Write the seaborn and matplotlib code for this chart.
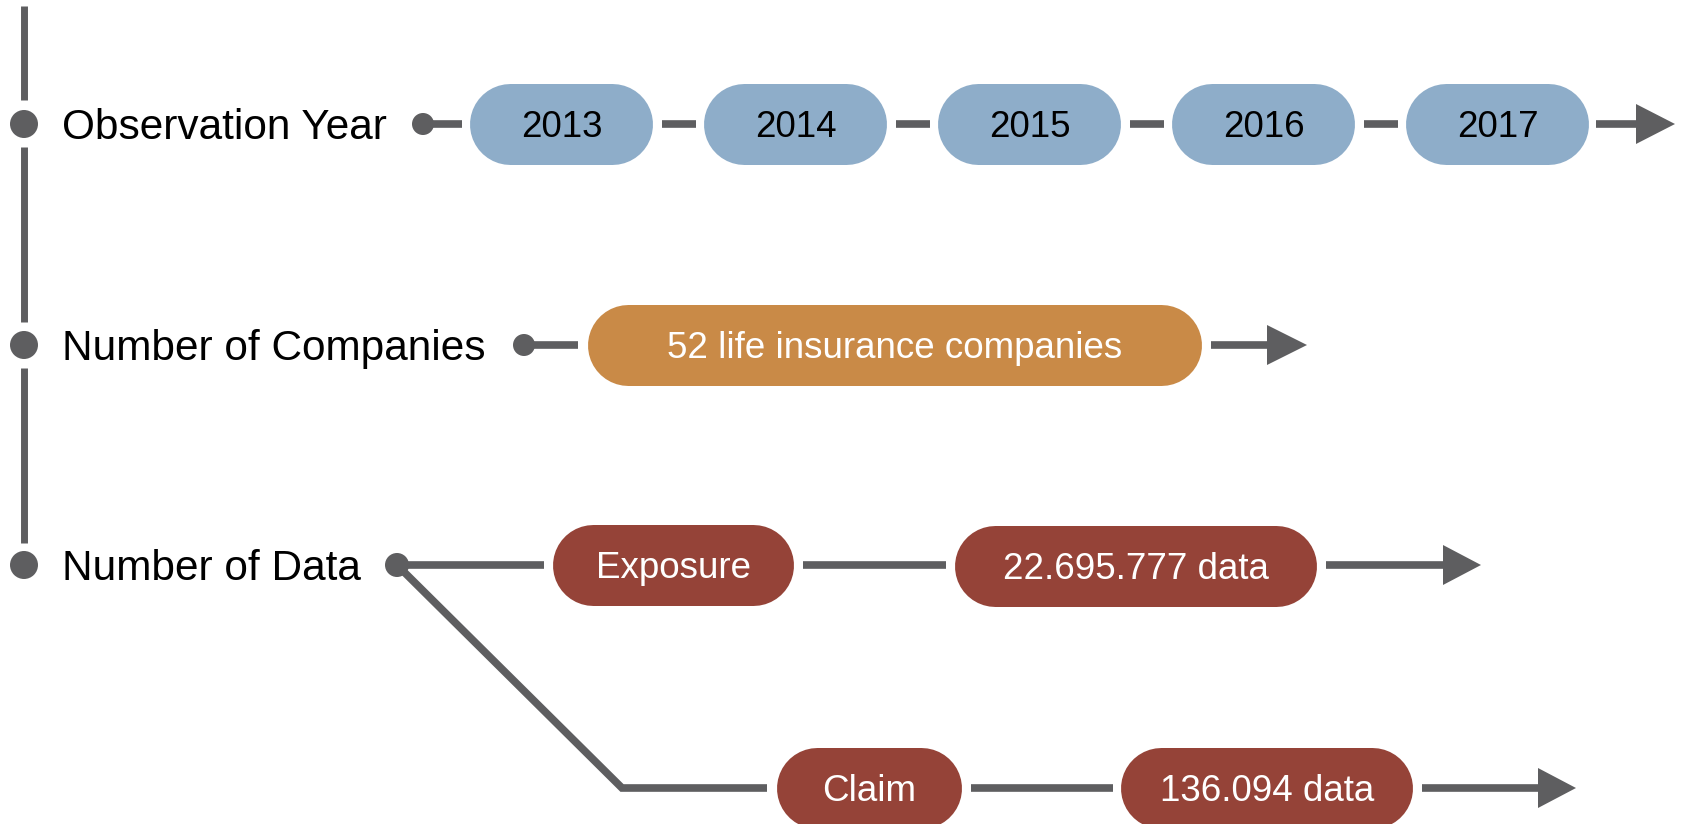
import matplotlib.pyplot as plt
import seaborn as sns
from matplotlib.patches import Polygon

# content
row_labels = ["Observation Year", "Number of Companies", "Number of Data"]
years = ["2013", "2014", "2015", "2016", "2017"]
companies = ["52 life insurance companies"]
data_kinds = ["Exposure", "Claim"]
data_counts = ["22.695.777 data", "136.094 data"]

# colours
GRAY = "#5e5e60"
BLUE = "#8eadc9"
ORANGE = "#c98a47"
RED = "#954338"

# layout in pixels (figure is 1682 x 824, y runs downward)
row_y = [124, 345, 565]
year_x0 = [470, 704, 938, 1172, 1406]
year_w = 183
pill_h = 81
PX = 72 / 100  # points per pixel at dpi 100


def pill(ax, x0, x1, yc, text, fc, tc):
    """stadium shaped box with centred text (thick line with round caps)"""
    r = pill_h / 2
    ax.plot([x0 + r, x1 - r], [yc, yc], color=fc, lw=pill_h * PX,
            solid_capstyle="round", zorder=3)
    ax.text((x0 + x1) / 2, yc + 13, text, color=tc, fontsize=26.5,
            ha="center", va="baseline", zorder=4)


def line(ax, xs, ys):
    ax.plot(xs, ys, color=GRAY, lw=5.5, solid_capstyle="butt", zorder=2)


def arrow(ax, x0, base, tip, y):
    line(ax, [x0, base + 2], [y, y])
    ax.add_patch(Polygon([[base, y - 20], [tip, y], [base, y + 20]],
                         closed=True, fc=GRAY, ec="none", zorder=2))


def dot(ax, x, y, r):
    ax.add_patch(plt.Circle((x, y), r, fc=GRAY, ec="none", zorder=3))


sns.set_style("white")
plt.rcParams["font.family"] = ["Liberation Sans", "DejaVu Sans"]

fig = plt.figure(figsize=(16.82, 8.24), dpi=100)
ax = fig.add_axes([0, 0, 1, 1])
ax.set_xlim(0, 1682)
ax.set_ylim(824, 0)
ax.axis("off")

# left timeline spine
for y0, y1 in [(6, 100), (147, 322), (368, 543)]:
    ax.plot([24, 24], [y0, y1], color=GRAY, lw=5, solid_capstyle="butt")
for label, y in zip(row_labels, row_y):
    dot(ax, 24, y, 14)
    ax.text(62, y + 15, label, fontsize=30.5, color="black",
            ha="left", va="baseline")

# row 1: observation years
y = row_y[0]
dot(ax, 423, y, 11)
line(ax, [423, 462], [y, y])
for i, yr in enumerate(years):
    x0 = year_x0[i]
    pill(ax, x0, x0 + year_w, y, yr, BLUE, "black")
    if i > 0:
        line(ax, [year_x0[i - 1] + year_w + 9, x0 - 8], [y, y])
arrow(ax, year_x0[-1] + year_w + 7, 1636, 1675, y)

# row 2: companies
y = row_y[1]
dot(ax, 524, y, 11)
line(ax, [524, 578], [y, y])
pill(ax, 588, 1202, y, companies[0], ORANGE, "white")
arrow(ax, 1211, 1267, 1307, y)

# row 3: data, exposure branch
y = row_y[2]
dot(ax, 397, y, 12)
line(ax, [397, 544], [y, y])
pill(ax, 553, 794, y, data_kinds[0], RED, "white")
line(ax, [803, 946], [y, y])
pill(ax, 955, 1317, y + 1, data_counts[0], RED, "white")
arrow(ax, 1326, 1443, 1481, y)

# row 3: claim branch
yc = 788
ax.plot([397, 622, 767], [y, yc, yc], color=GRAY, lw=5.5,
        solid_joinstyle="miter", solid_capstyle="butt", zorder=2)
pill(ax, 777, 962, yc, data_kinds[1], RED, "white")
line(ax, [971, 1113], [yc, yc])
pill(ax, 1121, 1413, yc, data_counts[1], RED, "white")
arrow(ax, 1422, 1538, 1576, yc)

fig.savefig("out.png", dpi=100)
